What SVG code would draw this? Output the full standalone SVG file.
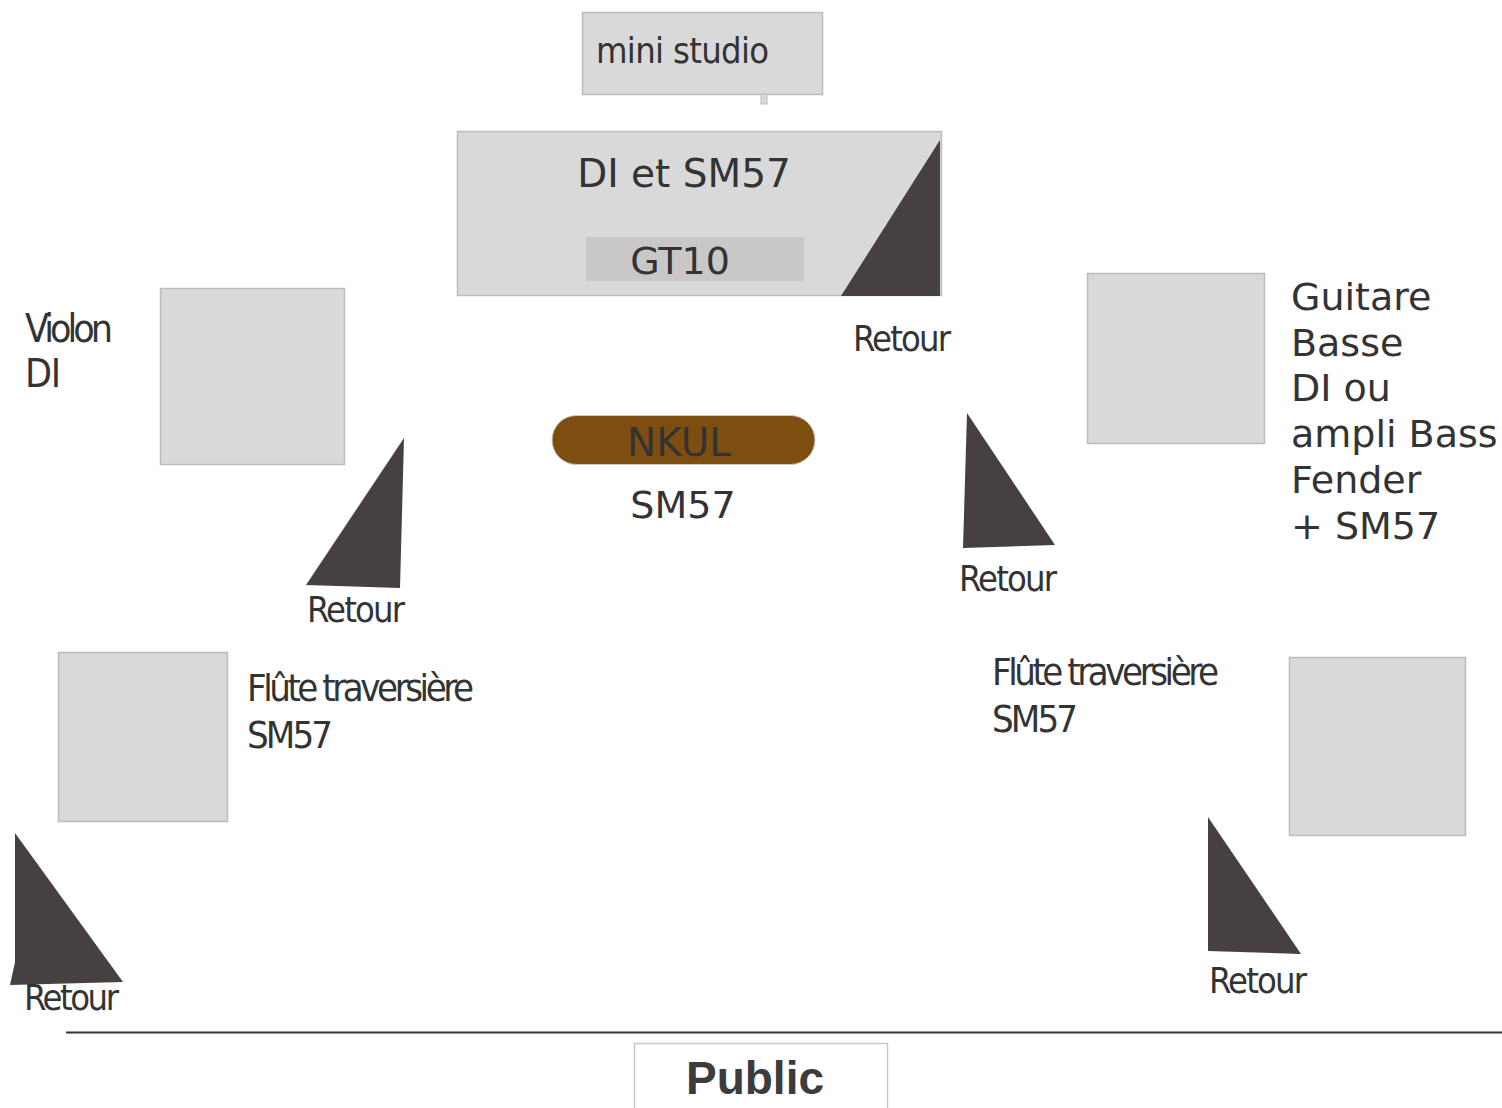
<svg xmlns="http://www.w3.org/2000/svg" width="1502" height="1108" viewBox="0 0 1502 1108">
<style>
.box{fill:#d9d9d9;stroke:#bcbcbc;stroke-width:1.5}
.mon{fill:#464041}
.t{font-family:"DejaVu Sans",Verdana,sans-serif;fill:#333333}
.c{font-family:"DejaVu Sans Condensed","DejaVu Sans",sans-serif;font-stretch:condensed;fill:#333333}
</style>
<rect width="1502" height="1108" fill="#ffffff"/>
<g id="mini-studio">
<rect class="box" x="582.5" y="12.5" width="240" height="82"/>
<rect x="761" y="94" width="6" height="10" fill="#d9d9d9" stroke="#bcbcbc" stroke-width="1"/>
<text class="c" x="596" y="63" font-size="36" textLength="173" lengthAdjust="spacing">mini studio</text>
</g>
<g id="di-sm57">
<rect class="box" x="457.5" y="131.5" width="484" height="164"/>
<rect x="586" y="237" width="218" height="44" fill="#c9c7c8"/>
<polygon class="mon" points="940,140 940,296 841,296"/>
<text class="t" x="684" y="187" font-size="39" text-anchor="middle">DI et SM57</text>
<text class="t" x="680" y="274" font-size="38" text-anchor="middle">GT10</text>
</g>
<g id="retour-top">
<text class="c" x="853" y="351" font-size="36" textLength="98" lengthAdjust="spacing">Retour</text>
</g>
<g id="violon">
<rect class="box" x="160.5" y="288.5" width="184" height="176"/>
<text class="c" x="25" y="342" font-size="39" textLength="88" lengthAdjust="spacing">Violon</text>
<text class="c" x="25" y="387" font-size="39" textLength="36" lengthAdjust="spacing">DI</text>
</g>
<g id="retour-violon">
<polygon class="mon" points="404,438 400,588 306,585"/>
<text class="c" x="307" y="622" font-size="36" textLength="98" lengthAdjust="spacing">Retour</text>
</g>
<g id="nkul">
<rect x="552" y="415.5" width="263" height="49" rx="24.5" fill="#7e4e10" stroke="#cfc8bf" stroke-width="1"/>
<text class="t" x="679" y="456" font-size="39" text-anchor="middle">NKUL</text>
<text class="t" x="683" y="518" font-size="38" text-anchor="middle">SM57</text>
</g>
<g id="basse">
<rect class="box" x="1087.5" y="273.5" width="177" height="170"/>
<text class="t" x="1291" y="310" font-size="38">Guitare</text>
<text class="t" x="1291" y="356" font-size="38">Basse</text>
<text class="t" x="1291" y="401" font-size="38">DI ou</text>
<text class="t" x="1291" y="447" font-size="38">ampli Bass</text>
<text class="t" x="1291" y="493" font-size="38">Fender</text>
<text class="t" x="1291" y="539" font-size="38">+ SM57</text>
</g>
<g id="retour-basse">
<polygon class="mon" points="967,413 1055,545 963,548"/>
<text class="c" x="959" y="591" font-size="36" textLength="98" lengthAdjust="spacing">Retour</text>
</g>
<g id="flute-left">
<rect class="box" x="58.5" y="652.5" width="169" height="169"/>
<text class="c" x="247" y="701" font-size="38" textLength="227" lengthAdjust="spacing">Flûte traversière</text>
<text class="c" x="247" y="748" font-size="38" textLength="86" lengthAdjust="spacing">SM57</text>
</g>
<g id="retour-flute-left">
<polygon class="mon" points="15,833 123,982 10,985 15,962"/>
<text class="c" x="24" y="1010" font-size="36" textLength="95" lengthAdjust="spacing">Retour</text>
</g>
<g id="flute-right">
<rect class="box" x="1289.5" y="657.5" width="176" height="178"/>
<text class="c" x="992" y="685" font-size="38" textLength="227" lengthAdjust="spacing">Flûte traversière</text>
<text class="c" x="992" y="732" font-size="38" textLength="86" lengthAdjust="spacing">SM57</text>
</g>
<g id="retour-flute-right">
<polygon class="mon" points="1208,817 1301,954 1208,951"/>
<text class="c" x="1209" y="993" font-size="36" textLength="98" lengthAdjust="spacing">Retour</text>
</g>
<g id="connectors"></g>
<g id="stage-edge">
<line x1="66" y1="1032.5" x2="1502" y2="1032.5" stroke="#333333" stroke-width="2"/>
</g>
<g id="public">
<rect x="634.5" y="1043.5" width="253" height="80" fill="#ffffff" stroke="#c8c8c8" stroke-width="1.5"/>
<text x="755" y="1094" font-family="'Liberation Sans',Arial,sans-serif" font-weight="bold" font-size="46" fill="#3c3c3c" text-anchor="middle">Public</text>
</g>
</svg>
